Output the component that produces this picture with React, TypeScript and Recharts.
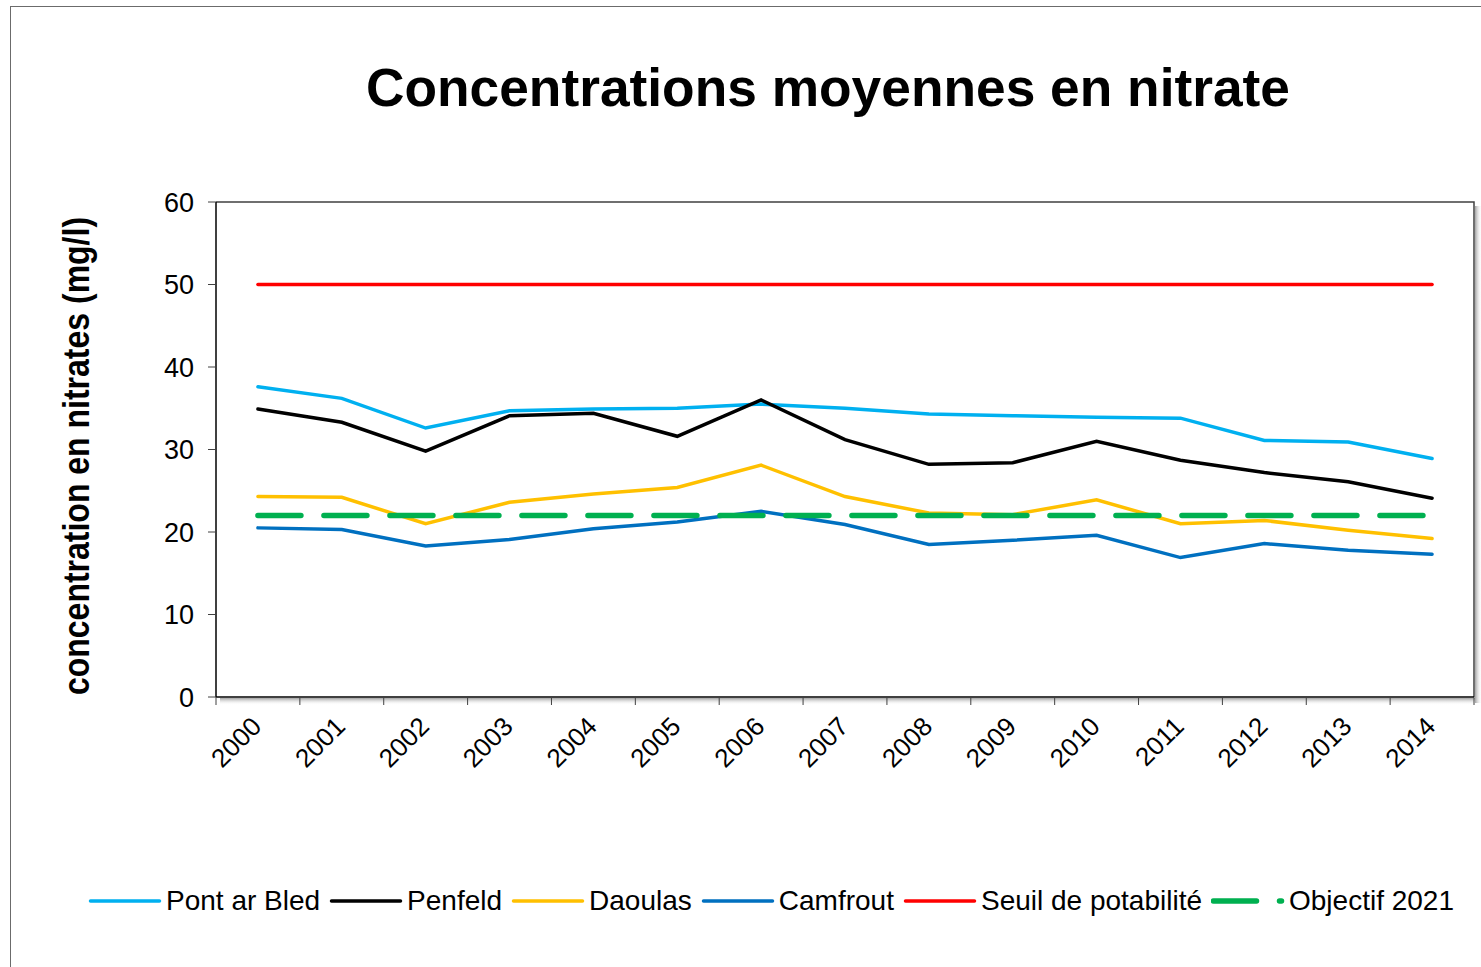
import React from 'react';
import { LineChart, Line, XAxis, YAxis, usePlotArea } from 'recharts';

const years = ['2000', '2001', '2002', '2003', '2004', '2005', '2006', '2007', '2008', '2009', '2010', '2011', '2012', '2013', '2014'];
const pontArBled = [37.6, 36.2, 32.6, 34.7, 34.9, 35.0, 35.5, 35.0, 34.3, 34.1, 33.9, 33.8, 31.1, 30.9, 28.9];
const penfeld = [34.9, 33.3, 29.8, 34.1, 34.4, 31.6, 36.0, 31.2, 28.2, 28.4, 31.0, 28.7, 27.2, 26.1, 24.1];
const daoulas = [24.3, 24.2, 21.0, 23.6, 24.6, 25.4, 28.1, 24.3, 22.3, 22.1, 23.9, 21.0, 21.4, 20.2, 19.2];
const camfrout = [20.5, 20.3, 18.3, 19.1, 20.4, 21.2, 22.5, 20.9, 18.5, 19.0, 19.6, 16.9, 18.6, 17.8, 17.3];
const seuil = [50, 50, 50, 50, 50, 50, 50, 50, 50, 50, 50, 50, 50, 50, 50];
const objectif = [22, 22, 22, 22, 22, 22, 22, 22, 22, 22, 22, 22, 22, 22, 22];
const yTicks = [0, 10, 20, 30, 40, 50, 60];

const seriesDefs = [
  { key: 'pont', name: 'Pont ar Bled', color: '#00B0F0', width: 3.5, dash: undefined as string | undefined },
  { key: 'penfeld', name: 'Penfeld', color: '#000000', width: 3.5, dash: undefined },
  { key: 'daoulas', name: 'Daoulas', color: '#FFC000', width: 3.5, dash: undefined },
  { key: 'camfrout', name: 'Camfrout', color: '#0070C0', width: 3.5, dash: undefined },
  { key: 'seuil', name: 'Seuil de potabilité', color: '#FF0000', width: 3.5, dash: undefined },
  { key: 'objectif', name: 'Objectif 2021', color: '#00B050', width: 5.5, dash: '43 23' },
];

const data = years.map((y, i) => ({
  year: y,
  pont: pontArBled[i],
  penfeld: penfeld[i],
  daoulas: daoulas[i],
  camfrout: camfrout[i],
  seuil: seuil[i],
  objectif: objectif[i],
}));

const W = 1481;
const H = 967;
const M = { top: 202, right: 7, left: 156, bottom: 190 };
const YAXIS_W = 60;
const XAXIS_H = 80;
const PLOT_W = W - M.left - YAXIS_W - M.right;
const HALF = PLOT_W / years.length / 2;
const FONT = 'Arial, "Liberation Sans", Helvetica, sans-serif';

const XTick = (props: any) => {
  const { x, y, payload, index } = props;
  const last = index === years.length - 1;
  const tx = x + 5;
  const ty = y + 23;
  return (
    <g>
      <line x1={x - HALF} x2={x - HALF} y1={y - 8} y2={y} stroke="#404040" strokeWidth={1} />
      {last && <line x1={x + HALF} x2={x + HALF} y1={y - 8} y2={y} stroke="#404040" strokeWidth={1} />}
      <text
        x={tx}
        y={ty}
        textAnchor="end"
        transform={`rotate(-45, ${tx}, ${ty})`}
        fontSize={26}
        fontFamily={FONT}
        fill="#000"
      >
        {payload.value}
      </text>
    </g>
  );
};

const PlotFrame = () => {
  const area: any = usePlotArea();
  if (!area) return null;
  const { x, y, width, height } = area;
  return (
    <g>
      <defs>
        <linearGradient id="shR" x1="0" x2="1" y1="0" y2="0">
          <stop offset="0" stopColor="#8c8c8c" stopOpacity="0.8" />
          <stop offset="1" stopColor="#ffffff" stopOpacity="0" />
        </linearGradient>
        <linearGradient id="shB" x1="0" x2="0" y1="0" y2="1">
          <stop offset="0" stopColor="#8c8c8c" stopOpacity="0.8" />
          <stop offset="1" stopColor="#ffffff" stopOpacity="0" />
        </linearGradient>
      </defs>
      <rect x={x + width + 1} y={y + 4} width={7} height={height + 2} fill="url(#shR)" />
      <rect x={x + 4} y={y + height + 1} width={width - 3} height={7} fill="url(#shB)" />
      <path d={`M${x},${y} H${x + width} V${y + height}`} stroke="#404040" strokeWidth={1.5} fill="none" />
    </g>
  );
};

const LegendItem = ({ s }: { s: (typeof seriesDefs)[number] }) => (
  <div style={{ display: 'flex', alignItems: 'center' }}>
    <svg width={74} height={12} style={{ display: 'block' }}>
      <line
        x1={2.5}
        x2={s.dash ? 70.5 : 71.5}
        y1={6}
        y2={6}
        stroke={s.color}
        strokeWidth={s.width}
        strokeLinecap="round"
        strokeDasharray={s.dash}
      />
    </svg>
    <span style={{ marginLeft: 4, fontSize: 28, fontFamily: FONT, color: '#000', whiteSpace: 'nowrap' }}>{s.name}</span>
  </div>
);

export default function App() {
  return (
    <div style={{ position: 'absolute', left: 0, top: 0, width: W, height: H, background: '#fff', overflow: 'hidden' }}>
      <div
        style={{
          position: 'absolute',
          left: 10,
          top: 6,
          width: W - 10,
          height: H - 6,
          borderLeft: '1px solid #6b6b6b',
          borderTop: '1px solid #6b6b6b',
          boxSizing: 'border-box',
        }}
      />
      <svg width={W} height={H} style={{ position: 'absolute', left: 0, top: 0 }}>
        <text x={828} y={106} textAnchor="middle" fontSize={53.3} fontWeight="bold" fontFamily={FONT} fill="#000">
          Concentrations moyennes en nitrate
        </text>
        <text
          transform="translate(89, 456) rotate(-90) scale(1, 1.15)"
          textAnchor="middle"
          fontSize={32}
          fontWeight="bold"
          fontFamily={FONT}
          fill="#000"
        >
          concentration en nitrates (mg/l)
        </text>
      </svg>
      <div style={{ position: 'absolute', left: 0, top: 0 }}>
        <LineChart width={W} height={H} data={data} margin={M}>
          <PlotFrame />
          <XAxis
            dataKey="year"
            height={XAXIS_H}
            padding={{ left: HALF, right: HALF }}
            axisLine={{ stroke: '#000', strokeWidth: 1.5 }}
            tickLine={{ stroke: 'none' }}
            tickSize={8}
            tickMargin={0}
            interval={0}
            tick={<XTick />}
          />
          <YAxis
            width={YAXIS_W}
            domain={[0, 60]}
            ticks={yTicks}
            interval={0}
            axisLine={{ stroke: '#000', strokeWidth: 1.5 }}
            tickLine={{ stroke: '#404040' }}
            tickSize={8}
            tickMargin={14}
            tick={{ fontSize: 27, fontFamily: FONT, fill: '#000' }}
          />
          {seriesDefs.map((s) => (
            <Line
              key={s.key}
              dataKey={s.key}
              name={s.name}
              stroke={s.color}
              strokeWidth={s.width}
              strokeDasharray={s.dash}
              strokeLinecap="round"
              dot={false}
              activeDot={false}
              isAnimationActive={false}
              type="linear"
            />
          ))}
        </LineChart>
      </div>
      <div style={{ position: 'absolute', left: 88, top: 885, display: 'flex', alignItems: 'center', gap: 9 }}>
        {seriesDefs.map((s) => (
          <LegendItem key={s.key} s={s} />
        ))}
      </div>
    </div>
  );
}
